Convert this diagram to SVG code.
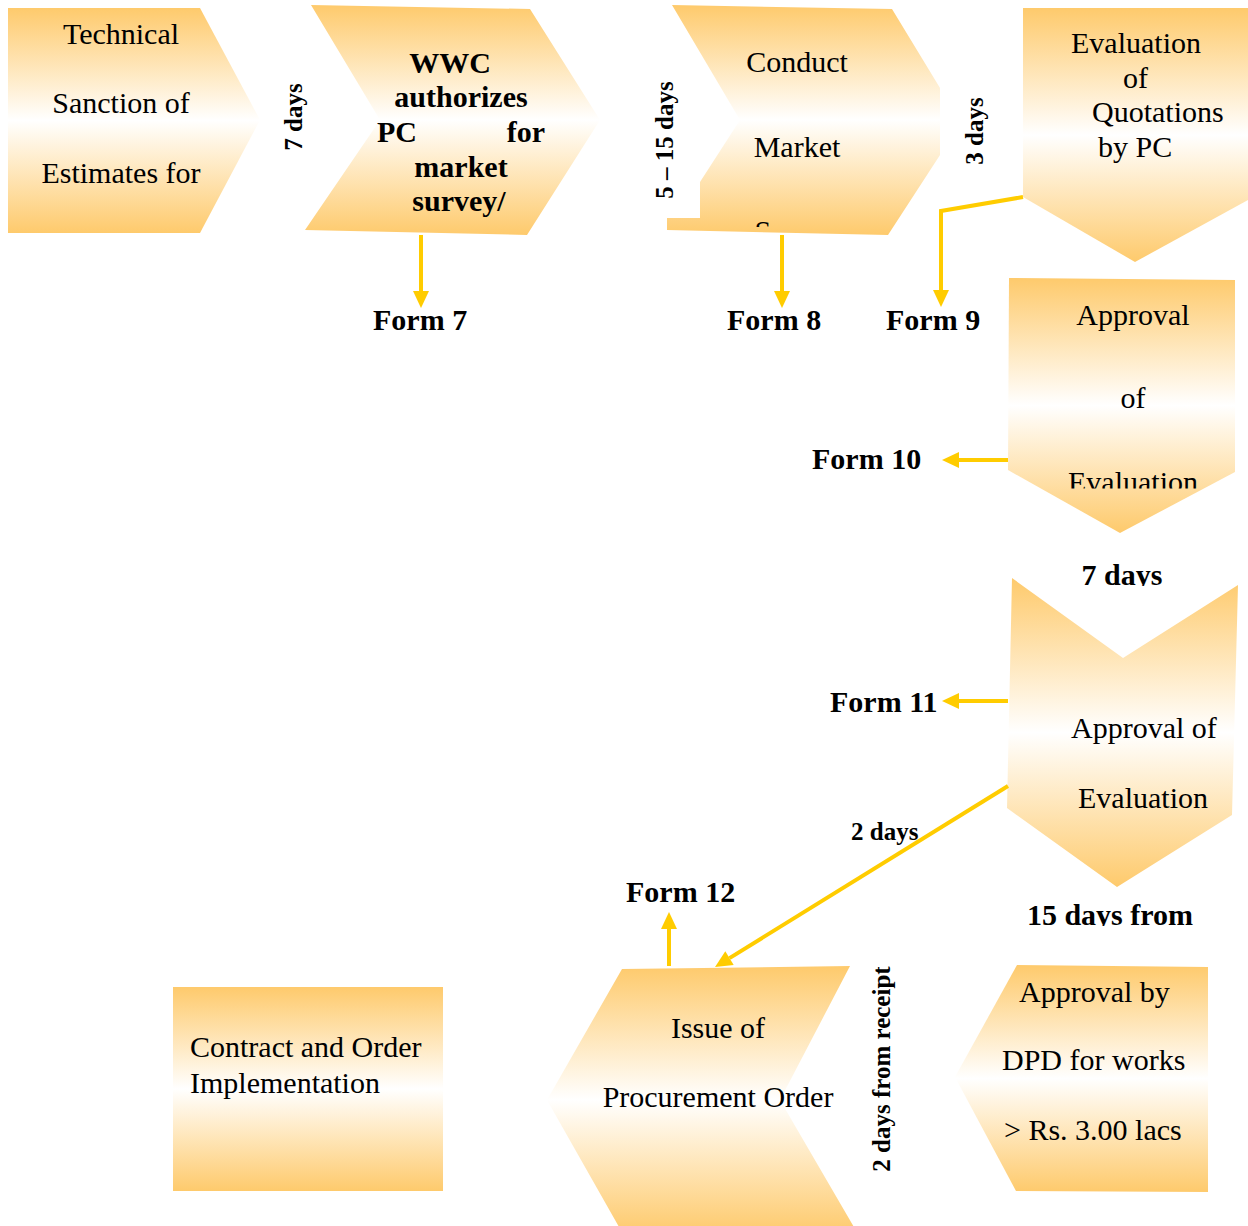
<svg xmlns="http://www.w3.org/2000/svg" width="1248" height="1226" viewBox="0 0 1248 1226">
  <defs>
    <linearGradient id="fillGrad" x1="0" y1="0" x2="0" y2="1">
      <stop offset="0" stop-color="#FECA6C"/>
      <stop offset="0.5" stop-color="#FFFFFF"/>
      <stop offset="1" stop-color="#FECA6C"/>
    </linearGradient>
    <marker id="arrow" markerUnits="userSpaceOnUse" markerWidth="18" markerHeight="18" refX="0" refY="0" viewBox="0 -9 18 18" orient="auto" overflow="visible">
      <path d="M0,-8 L17,0 L0,8 Z" fill="#FFCC00"/>
    </marker>
    <clipPath id="clipSurvey"><rect x="640" y="150" width="320" height="77"/></clipPath>
    <clipPath id="clipEval1"><rect x="1000" y="440" width="240" height="48.5"/></clipPath>
    <clipPath id="clip7days"><rect x="1060" y="540" width="130" height="46"/></clipPath>
    <clipPath id="clip15days"><rect x="1010" y="880" width="200" height="46"/></clipPath>
  </defs>
  <style>
    .shape { fill: url(#fillGrad); stroke: none; }
    .t { font-family: "Liberation Serif", "Times New Roman", serif; font-size: 30px; fill: #000; }
    .b { font-family: "Liberation Serif", "Times New Roman", serif; font-size: 30px; font-weight: bold; fill: #000; }
    .s { font-family: "Liberation Serif", "Times New Roman", serif; font-size: 25px; font-weight: bold; fill: #000; }
    .mid { text-anchor: middle; }
    .end { text-anchor: end; }
    .conn { fill: none; stroke: #FFCC00; stroke-width: 4; marker-end: url(#arrow); }
  </style>

  <rect width="1248" height="1226" fill="#FFFFFF"/>

  <!-- process steps -->
  <g id="technical-sanction">
    <polygon class="shape" points="8,8 200,8 260,120 200,233 8,233"/>
    <text class="t mid" x="121" y="44">Technical</text>
    <text class="t mid" x="121" y="113">Sanction of</text>
    <text class="t mid" x="121" y="183">Estimates for</text>
  </g>

  <g id="wwc-authorizes">
    <polygon class="shape" points="311,5 530,9 600,120 527,235 305,230 380,120"/>
    <text class="b mid" x="450" y="73">WWC</text>
    <text class="b mid" x="461" y="107">authorizes</text>
    <text class="b" x="377" y="142">PC</text>
    <text class="b end" x="545" y="142">for</text>
    <text class="b mid" x="461" y="177">market</text>
    <text class="b mid" x="459" y="211">survey/</text>
  </g>

  <g id="conduct-market-survey">
    <polygon class="shape" points="672,5 892,9 940,88 940,155 888,235 667,230 667,218 700,218 700,182 740,120"/>
    <text class="t mid" x="797" y="72">Conduct</text>
    <text class="t mid" x="797" y="157">Market</text>
    <text class="t mid" x="797" y="241" clip-path="url(#clipSurvey)">Survey</text>
  </g>

  <g id="evaluation-quotations">
    <polygon class="shape" points="1023,8 1248,8 1248,200 1135,262 1023,197"/>
    <text class="t" x="1071" y="53">Evaluation</text>
    <text class="t" x="1123" y="88">of</text>
    <text class="t" x="1092" y="122">Quotations</text>
    <text class="t" x="1098" y="157">by PC</text>
  </g>

  <g id="approval-evaluation-1">
    <polygon class="shape" points="1009,278 1235,280 1235,472 1120,533 1008,470"/>
    <text class="t mid" x="1133" y="325">Approval</text>
    <text class="t mid" x="1133" y="408">of</text>
    <text class="t mid" x="1133" y="492" clip-path="url(#clipEval1)">Evaluation</text>
  </g>

  <g id="approval-evaluation-2">
    <polygon class="shape" points="1012,578 1123,658 1238,585 1232,815 1117,887 1007,808"/>
    <text class="t" x="1071" y="738">Approval of</text>
    <text class="t" x="1078" y="808">Evaluation</text>
  </g>

  <g id="approval-dpd">
    <polygon class="shape" points="1017,965 1208,967 1208,1192 1016,1191 955,1077"/>
    <text class="t" x="1019" y="1002">Approval by</text>
    <text class="t" x="1002" y="1070">DPD for works</text>
    <text class="t" x="1004" y="1140">&gt; Rs. 3.00 lacs</text>
  </g>

  <g id="issue-procurement-order">
    <polygon class="shape" points="622,969 850,966 780,1100 858,1234 623,1234 547,1100"/>
    <text class="t mid" x="718" y="1038">Issue of</text>
    <text class="t mid" x="718" y="1107">Procurement Order</text>
  </g>

  <g id="contract-implementation">
    <rect class="shape" x="173" y="987" width="270" height="204"/>
    <text class="t" x="190" y="1057">Contract and Order</text>
    <text class="t" x="190" y="1093">Implementation</text>
  </g>

  <!-- connectors -->
  <g id="connectors">
    <line class="conn" x1="421" y1="235" x2="421" y2="291"/>
    <line class="conn" x1="782" y1="235" x2="782" y2="291"/>
    <polyline class="conn" points="1023,197 941,211 941,290"/>
    <line class="conn" x1="1008" y1="460" x2="959" y2="460"/>
    <line class="conn" x1="1008" y1="701" x2="959" y2="701"/>
    <line class="conn" x1="1008" y1="786" x2="729.5" y2="958.1"/>
    <line class="conn" x1="669" y1="966" x2="669" y2="929"/>
  </g>

  <!-- form labels -->
  <g id="form-labels">
    <text class="b" x="373" y="330">Form 7</text>
    <text class="b" x="727" y="330">Form 8</text>
    <text class="b" x="886" y="330">Form 9</text>
    <text class="b" x="812" y="469">Form 10</text>
    <text class="b" x="830" y="712">Form 11</text>
    <text class="b" x="626" y="902">Form 12</text>
  </g>

  <!-- durations -->
  <g id="durations">
    <text class="s mid" transform="translate(302,117) rotate(-90)">7 days</text>
    <text class="s mid" transform="translate(673,140) rotate(-90)">5 – 15 days</text>
    <text class="s mid" transform="translate(983,131) rotate(-90)">3 days</text>
    <text class="b mid" x="1122" y="585" clip-path="url(#clip7days)">7 days</text>
    <text class="s" x="851" y="840">2 days</text>
    <text class="b mid" x="1110" y="925" clip-path="url(#clip15days)">15 days from</text>
    <text class="s mid" transform="translate(890,1069) rotate(-90)">2 days from receipt</text>
  </g>
</svg>
